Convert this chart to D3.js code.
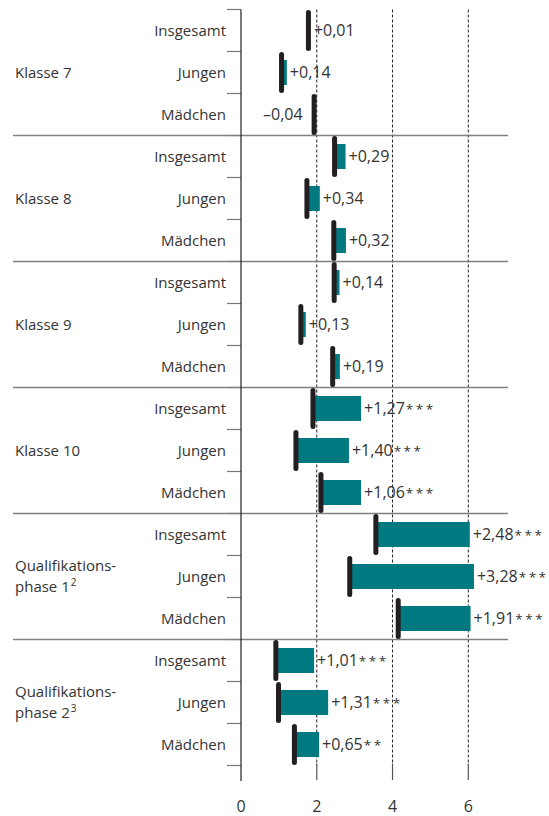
<!DOCTYPE html>
<html lang="de">
<head>
<meta charset="utf-8">
<script src="https://cdn.jsdelivr.net/npm/d3@7"></script>
<style>
  body { margin: 0; background: #fff; }
  text { font-family: "Open Sans", sans-serif; fill: #333; }
</style>
</head>
<body>
<script>
// gruppen und zeilen
var groups = [["Klasse 7"], ["Klasse 8"], ["Klasse 9"], ["Klasse 10"],
              ["Qualifikations-", "phase 1", "2"], ["Qualifikations-", "phase 2", "3"]];
var subgroups = ["Insgesamt", "Jungen", "Mädchen"];

// ausgangswert (schwarzer strich), je gruppe 3 werte
var baseValues = [1.78, 1.07, 1.93,
                  2.47, 1.74, 2.45,
                  2.46, 1.58, 2.42,
                  1.90, 1.45, 2.11,
                  3.56, 2.87, 4.15,
                  0.92, 0.99, 1.41];
// veränderung (türkiser balken)
var changes = [0.01, 0.14, -0.04,
               0.29, 0.34, 0.32,
               0.14, 0.13, 0.19,
               1.27, 1.40, 1.06,
               2.48, 3.28, 1.91,
               1.01, 1.31, 0.65];
var stars = ["", "", "",
             "", "", "",
             "", "", "",
             "***", "***", "***",
             "***", "***", "***",
             "***", "***", "**"];
var xTicks = [0, 2, 4, 6];

var W = 549, H = 816;
var yTop = 9.5, yBottom = 765.5;

var rows = [];
groups.forEach(function(g, gi) {
  subgroups.forEach(function(s, si) {
    var i = gi * 3 + si;
    rows.push({id: i, group: gi, label: s, base: baseValues[i], change: changes[i], stars: stars[i]});
  });
});

var x = d3.scaleLinear().domain([0, 6]).range([241, 468.3]);
var y = d3.scaleBand().domain(rows.map(function(d) { return d.id; })).range([yTop, yBottom]).padding(0);
var bw = y.bandwidth();

var svg = d3.select("body").append("svg").attr("width", W).attr("height", H);

// gestrichelte hilfslinien
svg.selectAll("line.grid").data(xTicks.filter(function(t) { return t > 0; })).enter()
  .append("line").attr("class", "grid")
  .attr("x1", function(d) { return x(d); }).attr("x2", function(d) { return x(d); })
  .attr("y1", yTop).attr("y2", yBottom)
  .attr("stroke", "#222").attr("stroke-width", 1).attr("stroke-dasharray", "3,2");

// x-achse unten: nur kurze striche + beschriftung
svg.selectAll("line.xtick").data(xTicks.filter(function(t) { return t > 0; })).enter()
  .append("line").attr("class", "xtick")
  .attr("x1", function(d) { return x(d); }).attr("x2", function(d) { return x(d); })
  .attr("y1", yBottom - 2).attr("y2", 780)
  .attr("stroke", "#555").attr("stroke-width", 1.2);
svg.selectAll("text.xlab").data(xTicks).enter()
  .append("text").attr("class", "xlab")
  .attr("x", function(d) { return x(d); }).attr("y", 812)
  .attr("text-anchor", "middle").attr("font-size", 16)
  .text(function(d) { return d; });

// zeilen-ticks links der achse
var tickYs = d3.range(rows.length + 1).map(function(i) { return yTop + i * bw; });
svg.selectAll("line.rtick").data(tickYs).enter()
  .append("line").attr("class", "rtick")
  .attr("x1", 227).attr("x2", x(0))
  .attr("y1", function(d) { return d; }).attr("y2", function(d) { return d; })
  .attr("stroke", "#777").attr("stroke-width", 1.2);

// gruppentrennlinien
svg.selectAll("line.sep").data(d3.range(1, groups.length)).enter()
  .append("line").attr("class", "sep")
  .attr("x1", 13).attr("x2", 508)
  .attr("y1", function(d) { return yTop + d * 3 * bw; }).attr("y2", function(d) { return yTop + d * 3 * bw; })
  .attr("stroke", "#808080").attr("stroke-width", 1.5);

// y-achse
svg.append("line").attr("x1", x(0)).attr("x2", x(0)).attr("y1", yTop).attr("y2", 781)
  .attr("stroke", "#222").attr("stroke-width", 1.2);

// zeilenbeschriftung
svg.selectAll("text.rlab").data(rows).enter()
  .append("text").attr("class", "rlab")
  .attr("x", 226).attr("y", function(d) { return y(d.id) + bw / 2; })
  .attr("dy", "0.35em").attr("text-anchor", "end").attr("font-size", 15)
  .text(function(d) { return d.label; });

// gruppenbeschriftung
var gl = svg.selectAll("text.glab").data(groups).enter()
  .append("text").attr("class", "glab")
  .attr("x", 15).attr("font-size", 15)
  .attr("y", function(d, i) { return yTop + (i * 3 + 1.5) * bw + (d.length > 1 ? -10.5 : 0); })
  .attr("dy", "0.35em");
gl.each(function(d) {
  var t = d3.select(this);
  t.append("tspan").text(d[0]);
  if (d.length > 1) {
    t.append("tspan").attr("x", 15).attr("dy", 21).text(d[1]);
    t.append("tspan").attr("font-size", 10).attr("dx", 1).attr("dy", -6).text(d[2]);
  }
});

// balken
svg.selectAll("rect.bar").data(rows).enter()
  .append("rect").attr("class", "bar")
  .attr("x", function(d) { return x(Math.min(d.base, d.base + d.change)); })
  .attr("width", function(d) { return Math.abs(x(d.base + d.change) - x(d.base)); })
  .attr("y", function(d) { return y(d.id) + (bw - 25) / 2; })
  .attr("height", 25)
  .attr("fill", "#007a80");

// ausgangsmarker
svg.selectAll("line.marker").data(rows).enter()
  .append("line").attr("class", "marker")
  .attr("x1", function(d) { return x(d.base); }).attr("x2", function(d) { return x(d.base); })
  .attr("y1", function(d) { return y(d.id) + 3; }).attr("y2", function(d) { return y(d.id) + bw - 3; })
  .attr("stroke", "#231f20").attr("stroke-width", 5).attr("stroke-linecap", "round");

// werte
function fmt(v) {
  return (v < 0 ? "\u2013" : "+") + Math.abs(v).toFixed(2).replace(".", ",");
}
var vl = svg.selectAll("text.val").data(rows).enter()
  .append("text").attr("class", "val")
  .attr("font-size", 16)
  .attr("y", function(d) { return y(d.id) + bw / 2; })
  .attr("dy", "0.35em")
  .attr("text-anchor", function(d) { return d.change < 0 ? "end" : "start"; })
  .attr("x", function(d) {
    if (d.change < 0) return x(d.base + d.change) - 10;
    return Math.max(x(d.base + d.change), x(d.base) + 2.5) + 3;
  });
vl.append("tspan").text(function(d) { return fmt(d.change); });
vl.append("tspan").attr("font-size", 13.5).attr("letter-spacing", 2.5).attr("dx", 1)
  .text(function(d) { return d.stars; });
</script>
</body>
</html>
